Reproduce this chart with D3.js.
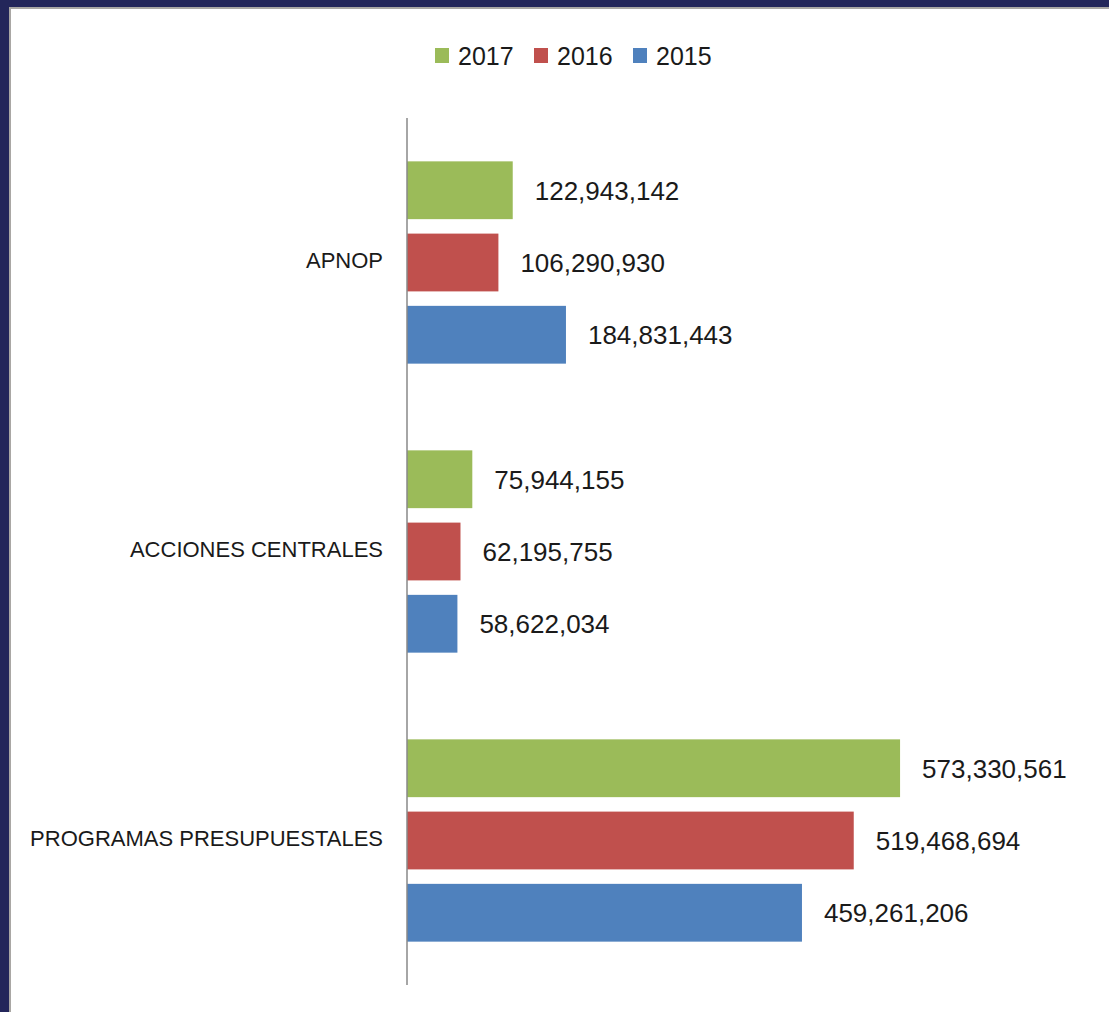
<!DOCTYPE html>
<html>
<head>
<meta charset="utf-8">
<script src="https://cdn.jsdelivr.net/npm/d3@7"></script>
<style>
  body { margin: 0; background: #ffffff; }
  svg { display: block; }
</style>
</head>
<body>
<div id="chart"></div>
<script>
// Categories (top to bottom) and series (top to bottom within each group)
var categories = ["APNOP", "ACCIONES CENTRALES", "PROGRAMAS PRESUPUESTALES"];
var years = ["2017", "2016", "2015"];
var colors = ["#9BBB59", "#C0504D", "#4F81BD"];

// values per year, in the same order as categories
var values2017 = [122943142, 75944155, 573330561];
var values2016 = [106290930, 62195755, 519468694];
var values2015 = [184831443, 58622034, 459261206];

var width = 1109, height = 1012;
var axisX = 407;

var rows = categories.map(function(c, i){
	return {
		category: c,
		bars: [
			{year: years[0], value: values2017[i], color: colors[0]},
			{year: years[1], value: values2016[i], color: colors[1]},
			{year: years[2], value: values2015[i], color: colors[2]}
		]
	};
});

var svg = d3.select("#chart")
			.append("svg")
			.attr("width", width)
			.attr("height", height);

// frame (dark slide border on top and left)
svg.append("rect").attr("x", 0).attr("y", 0).attr("width", width).attr("height", 7).attr("fill", "#23265A");
svg.append("rect").attr("x", 0).attr("y", 0).attr("width", 9).attr("height", height).attr("fill", "#23265A");
svg.append("rect").attr("x", 9).attr("y", 7).attr("width", width - 9).attr("height", 2).attr("fill", "#A9A7A4");
svg.append("rect").attr("x", 9).attr("y", 7).attr("width", 2).attr("height", height - 7).attr("fill", "#A9A7A4");

// scales
var x = d3.scaleLinear().domain([0, 700000000]).range([0, 602]);
var y0 = d3.scaleBand().domain(categories).range([118, 985]).padding(0);
var y1 = d3.scaleBand().domain(years).range([0, y0.bandwidth()]).paddingInner(0.2).paddingOuter(0.6);

var fmt = d3.format(",");
var font = "'Liberation Sans', Arial, sans-serif";

// groups
var groups = svg.selectAll(".group")
	.data(rows)
	.enter().append("g")
	.attr("class", "group")
	.attr("transform", function(d){ return "translate(0," + y0(d.category) + ")"; });

groups.selectAll("rect")
	.data(function(d){ return d.bars; })
	.enter().append("rect")
	.attr("x", axisX)
	.attr("y", function(d){ return y1(d.year); })
	.attr("width", function(d){ return x(d.value); })
	.attr("height", y1.bandwidth())
	.attr("fill", function(d){ return d.color; });

groups.selectAll("text.value")
	.data(function(d){ return d.bars; })
	.enter().append("text")
	.attr("class", "value")
	.attr("x", function(d){ return axisX + x(d.value) + 22; })
	.attr("y", function(d){ return y1(d.year) + y1.bandwidth() / 2; })
	.attr("dy", "0.36em")
	.attr("font-family", font)
	.attr("font-size", 26)
	.attr("fill", "#1a1a1a")
	.text(function(d){ return fmt(d.value); });

// category labels
svg.selectAll("text.cat")
	.data(categories)
	.enter().append("text")
	.attr("class", "cat")
	.attr("x", axisX - 24)
	.attr("y", function(d){ return y0(d) + y0.bandwidth() / 2 - 2; })
	.attr("dy", "0.36em")
	.attr("text-anchor", "end")
	.attr("font-family", font)
	.attr("font-size", 22)
	.attr("fill", "#1a1a1a")
	.text(function(d){ return d; });

// vertical axis line
svg.append("line")
	.attr("x1", axisX).attr("x2", axisX)
	.attr("y1", 118).attr("y2", 985)
	.attr("stroke", "#888888")
	.attr("stroke-width", 1.5);

// legend
var legend = svg.selectAll(".legend")
	.data(years)
	.enter().append("g")
	.attr("class", "legend")
	.attr("transform", function(d, i){ return "translate(" + (435 + i * 99) + ",48)"; });

legend.append("rect")
	.attr("width", 14).attr("height", 15)
	.attr("fill", function(d, i){ return colors[i]; });

legend.append("text")
	.attr("x", 23)
	.attr("y", 7.5)
	.attr("dy", "0.36em")
	.attr("font-family", font)
	.attr("font-size", 25)
	.attr("fill", "#1a1a1a")
	.text(function(d){ return d; });
</script>
</body>
</html>
